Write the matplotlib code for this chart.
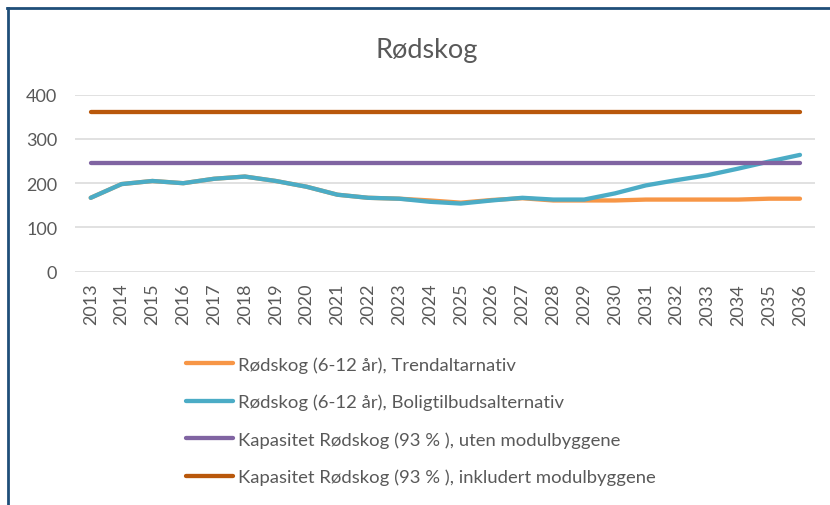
import matplotlib
matplotlib.use("Agg")
import matplotlib.pyplot as plt
from matplotlib.lines import Line2D

years = [str(y) for y in range(2013, 2037)]
trend = [167, 198, 205, 200, 210, 215, 205, 192, 174, 167, 165, 161, 156, 162, 166, 161, 161, 161, 163, 163, 163, 163, 165, 165]
bolig = [167, 198, 205, 200, 210, 215, 205, 192, 174, 167, 165, 158, 154, 161, 167, 163, 163, 177, 195, 207, 218, 233, 249, 264]
kap_uten = [245] * 24
kap_inkl = [360] * 24
labels = [
    "Rødskog (6-12 år), Trendaltarnativ",
    "Rødskog (6-12 år), Boligtilbudsalternativ",
    "Kapasitet Rødskog (93 % ), uten modulbyggene",
    "Kapasitet Rødskog (93 % ), inkludert modulbyggene",
]
colors = ["#F79646", "#4BACC6", "#8064A2", "#B9580B"]
yticks = [0, 100, 200, 300, 400]

plt.rcParams['font.family'] = ['Lato', 'DejaVu Sans']
W, H = 830, 506
fig = plt.figure(figsize=(W / 100, H / 100), dpi=100)
fig.patch.set_facecolor("white")

L, R, T, B = 75.3, 815.4, 95.7, 272.7
ax = fig.add_axes([L / W, 1 - B / H, (R - L) / W, (B - T) / H])
x = list(range(len(years)))
for i, (series, lab, c) in enumerate(zip([trend, bolig, kap_uten, kap_inkl], labels, colors)):
    ax.plot(x, series, color=c, lw=3.1, label=lab, solid_capstyle="round", zorder=3 + i)

ax.set_xlim(-0.5, len(years) - 0.5)
ax.set_ylim(0, 400)
ax.set_yticks(yticks)
ax.set_xticks(x)
ax.set_xticklabels(years, rotation=90)
for s in ax.spines.values():
    s.set_visible(False)
ax.grid(axis="y", color="#D9D9D9", lw=1.1)
ax.set_axisbelow(True)
ax.tick_params(axis="both", length=0, labelsize=13, colors="#595959")
ax.tick_params(axis="y", pad=13)
ax.tick_params(axis="x", pad=8)

fig.text(426.5 / W, 1 - 58.3 / H, "Rødskog", ha="center", va="baseline", fontsize=19.5, color="#595959")

leg = ax.legend(loc="upper left", bbox_to_anchor=(186 / W, 1 - 357 / H), bbox_transform=fig.transFigure,
                frameon=False, fontsize=13.3, labelspacing=1.14, handlelength=2.55, handletextpad=0.27,
                borderpad=0, borderaxespad=0)
for t in leg.get_texts():
    t.set_color("#595959")

# chart border (top and left edges visible)
fig.add_artist(Line2D([7 / W, 1], [1 - 9 / H, 1 - 9 / H], transform=fig.transFigure, color="#1F4E79", lw=2))
fig.add_artist(Line2D([8 / W, 8 / W], [0, 1 - 9 / H], transform=fig.transFigure, color="#1F4E79", lw=2))

fig.savefig("out.png", dpi=100)
